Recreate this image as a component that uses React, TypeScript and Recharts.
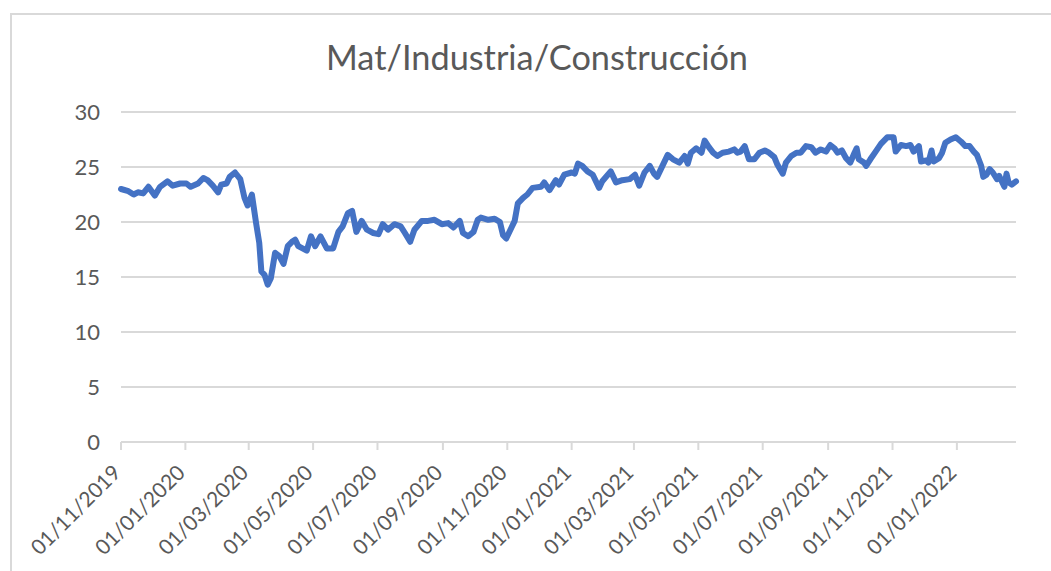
import React from 'react';
import { LineChart, Line, XAxis, YAxis, CartesianGrid } from 'recharts';

const TITLE = 'Mat/Industria/Construcción';

const dates: string[] = [
  '2019-11-01','2019-11-08','2019-11-13','2019-11-17','2019-11-22','2019-11-27','2019-12-03','2019-12-08','2019-12-15','2019-12-20','2019-12-27',
  '2020-01-02','2020-01-06','2020-01-13','2020-01-18','2020-01-22','2020-01-27','2020-02-01','2020-02-04','2020-02-09','2020-02-12','2020-02-17',
  '2020-02-22','2020-02-26','2020-02-29','2020-03-04','2020-03-08','2020-03-11','2020-03-13','2020-03-16','2020-03-19','2020-03-22','2020-03-26',
  '2020-03-30','2020-04-03','2020-04-07','2020-04-11','2020-04-14','2020-04-17','2020-04-25','2020-04-29','2020-05-03','2020-05-08','2020-05-14',
  '2020-05-20','2020-05-25','2020-05-29','2020-06-03','2020-06-07','2020-06-11','2020-06-16','2020-06-21','2020-06-27','2020-07-02','2020-07-06',
  '2020-07-11','2020-07-17','2020-07-23','2020-07-27','2020-08-01','2020-08-05','2020-08-12','2020-08-18','2020-08-24','2020-08-31','2020-09-06',
  '2020-09-11','2020-09-17','2020-09-20','2020-09-25','2020-09-30','2020-10-04','2020-10-07','2020-10-14','2020-10-20','2020-10-25','2020-10-28',
  '2020-10-31','2020-11-05','2020-11-08','2020-11-11','2020-11-16','2020-11-20','2020-11-25','2020-12-03','2020-12-06','2020-12-11','2020-12-17',
  '2020-12-20','2020-12-25','2021-01-01','2021-01-04','2021-01-07','2021-01-11','2021-01-16','2021-01-21','2021-01-27','2021-01-30','2021-02-07',
  '2021-02-12','2021-02-18','2021-02-25','2021-03-02','2021-03-06','2021-03-11','2021-03-16','2021-03-20','2021-03-23','2021-03-28','2021-04-02',
  '2021-04-07','2021-04-13','2021-04-18','2021-04-21','2021-04-24','2021-04-29','2021-05-04','2021-05-07','2021-05-11','2021-05-15','2021-05-19',
  '2021-05-24','2021-05-30','2021-06-04','2021-06-07','2021-06-10','2021-06-14','2021-06-18','2021-06-23','2021-06-28','2021-07-03','2021-07-07',
  '2021-07-12','2021-07-15','2021-07-20','2021-07-23','2021-07-28','2021-08-02','2021-08-06','2021-08-11','2021-08-16','2021-08-20','2021-08-25',
  '2021-08-30','2021-09-03','2021-09-07','2021-09-10','2021-09-14','2021-09-18','2021-09-22','2021-09-26','2021-09-28','2021-09-30','2021-10-05',
  '2021-10-07','2021-10-11','2021-10-16','2021-10-21','2021-10-27','2021-11-02','2021-11-04','2021-11-09','2021-11-14','2021-11-18','2021-11-21',
  '2021-11-26','2021-11-28','2021-12-03','2021-12-05','2021-12-08','2021-12-10','2021-12-15','2021-12-18','2021-12-21','2021-12-26','2021-12-31',
  '2022-01-05','2022-01-09','2022-01-13','2022-01-17','2022-01-20','2022-01-24','2022-01-26','2022-01-29','2022-02-01','2022-02-04','2022-02-08',
  '2022-02-10','2022-02-12','2022-02-15','2022-02-17','2022-02-19','2022-02-22','2022-02-26',
];

const values: number[] = [
  23.0,22.8,22.5,22.7,22.6,23.2,22.4,23.2,23.7,23.3,23.5,
  23.5,23.2,23.5,24.0,23.8,23.3,22.7,23.4,23.5,24.1,24.5,
  23.9,22.2,21.5,22.5,19.9,18.1,15.5,15.2,14.3,14.9,17.2,
  16.9,16.2,17.8,18.2,18.4,17.8,17.4,18.7,17.8,18.7,17.6,
  17.6,19.1,19.6,20.8,21.0,19.1,20.1,19.3,19.0,18.9,19.8,
  19.3,19.8,19.6,19.0,18.2,19.3,20.1,20.1,20.2,19.8,19.9,
  19.5,20.1,19.0,18.7,19.1,20.2,20.4,20.2,20.3,20.0,18.8,
  18.5,19.5,20.1,21.7,22.2,22.5,23.1,23.2,23.6,22.9,23.8,
  23.4,24.3,24.5,24.4,25.3,25.1,24.6,24.3,23.1,23.7,24.6,
  23.6,23.8,23.9,24.3,23.3,24.5,25.1,24.4,24.1,25.1,26.1,
  25.7,25.4,26.0,25.3,26.3,26.7,26.3,27.4,26.8,26.3,26.0,
  26.3,26.4,26.6,26.3,26.4,26.9,25.7,25.7,26.3,26.5,26.3,
  25.9,25.2,24.4,25.4,26.0,26.3,26.3,26.9,26.8,26.3,26.6,
  26.4,27.0,26.7,26.3,26.5,25.8,25.4,26.3,26.7,25.7,25.4,
  25.1,25.7,26.4,27.1,27.7,27.7,26.4,27.0,26.9,27.0,26.4,
  26.9,25.5,25.6,25.4,26.5,25.5,25.8,26.3,27.2,27.5,27.7,
  27.3,26.9,26.9,26.4,26.1,25.1,24.1,24.3,24.8,24.5,23.9,
  24.2,23.8,23.2,24.4,23.6,23.4,23.7,
];

const xTickLabels: string[] = [
  '01/11/2019','01/01/2020','01/03/2020','01/05/2020','01/07/2020','01/09/2020','01/11/2020',
  '01/01/2021','01/03/2021','01/05/2021','01/07/2021','01/09/2021','01/11/2021','01/01/2022',
];

const yTicks: number[] = [0, 5, 10, 15, 20, 25, 30];

const toTs = (iso: string) => Date.parse(iso + 'T00:00:00Z');
const parseDMY = (s: string) => {
  const [d, m, y] = s.split('/').map(Number);
  return Date.UTC(y, m - 1, d);
};
const pad = (n: number) => (n < 10 ? '0' + n : '' + n);
const fmt = (t: number) => {
  const d = new Date(t);
  return `${pad(d.getUTCDate())}/${pad(d.getUTCMonth() + 1)}/${d.getUTCFullYear()}`;
};

const data = dates.map((d, i) => ({ t: toTs(d), v: values[i] }));
const xTicks = xTickLabels.map(parseDMY);

const FONT = 'Lato, "Noto Sans", sans-serif';
const TEXT = '#595959';
const GRID = '#d9d9d9';

const XTick = (props: any) => {
  const { x, y, payload } = props;
  return (
    <text
      x={x + 1}
      y={y}
      transform={`rotate(-45 ${x + 1} ${y})`}
      textAnchor="end"
      fill={TEXT}
      fontFamily={FONT}
      fontSize={21}
    >
      {fmt(payload.value)}
    </text>
  );
};

const YTick = (props: any) => {
  const { x, y, payload } = props;
  return (
    <text x={x} y={y} dy={8} textAnchor="end" fill={TEXT} fontFamily={FONT} fontSize={22}>
      {payload.value}
    </text>
  );
};

export default function App() {
  return (
    <div style={{ position: 'absolute', left: 0, top: 0, width: 1051, height: 571, background: '#fff', overflow: 'hidden' }}>
      <div
        style={{
          position: 'absolute',
          left: 10,
          top: 13,
          right: -4,
          bottom: -4,
          borderTop: `2px solid ${GRID}`,
          borderLeft: `2px solid ${GRID}`,
        }}
      />
      <svg width={1051} height={571} style={{ position: 'absolute', left: 0, top: 0 }}>
        <text
          x={537}
          y={70}
          textAnchor="middle"
          fill={TEXT}
          fontFamily={FONT}
          fontSize={35}
          textLength={422}
          lengthAdjust="spacingAndGlyphs"
        >
          {TITLE}
        </text>
      </svg>
      <div style={{ position: 'absolute', left: 0, top: 0 }}>
        <LineChart
          width={1051}
          height={571}
          data={data}
          margin={{ top: 112, right: 35, left: 61, bottom: 29 }}
        >
          <CartesianGrid horizontal={true} vertical={false} stroke={GRID} strokeWidth={2} />
          <XAxis
            dataKey="t"
            type="number"
            scale="linear"
            domain={[xTicks[0], data[data.length - 1].t]}
            ticks={xTicks}
            interval={0}
            height={100}
            axisLine={{ stroke: GRID, strokeWidth: 2 }}
            tickLine={{ stroke: GRID, strokeWidth: 2 }}
            tickSize={8}
            tickMargin={24}
            tick={<XTick />}
          />
          <YAxis
            type="number"
            domain={[0, 30]}
            ticks={yTicks}
            interval={0}
            width={60}
            axisLine={false}
            tickLine={false}
            tickSize={0}
            tickMargin={21}
            tick={<YTick />}
          />
          <Line
            type="linear"
            dataKey="v"
            stroke="#4472C4"
            strokeWidth={6}
            strokeLinejoin="round"
            strokeLinecap="round"
            dot={false}
            activeDot={false}
            isAnimationActive={false}
          />
        </LineChart>
      </div>
    </div>
  );
}
